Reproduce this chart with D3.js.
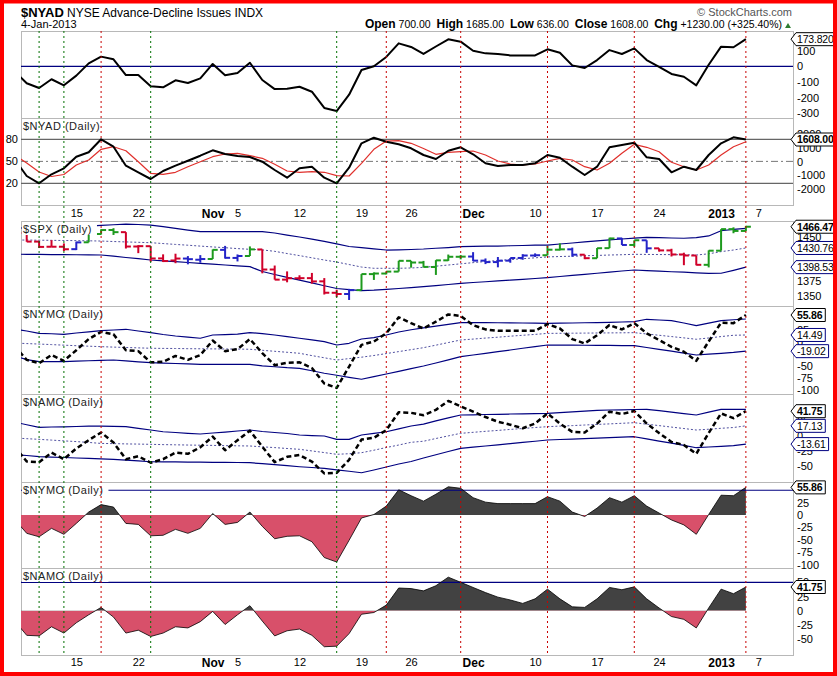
<!DOCTYPE html>
<html>
<head>
<meta charset="utf-8">
<script src="https://cdn.jsdelivr.net/npm/d3@7"></script>
<style>
  body { margin: 0; background: #fff; }
  svg text { font-family: "Liberation Sans", Arial, sans-serif; }
</style>
</head>
<body>
<svg id="chart" width="837" height="676"></svg>
<script>
// trading days shown (Oct 8 2012 .. Jan 4 2013)
let dates = ['2012-10-08','2012-10-09','2012-10-10','2012-10-11','2012-10-12','2012-10-15','2012-10-16','2012-10-17','2012-10-18','2012-10-19',
  '2012-10-22','2012-10-23','2012-10-24','2012-10-25','2012-10-26','2012-10-31','2012-11-01','2012-11-02','2012-11-05','2012-11-06',
  '2012-11-07','2012-11-08','2012-11-09','2012-11-12','2012-11-13','2012-11-14','2012-11-15','2012-11-16','2012-11-19','2012-11-20',
  '2012-11-21','2012-11-23','2012-11-26','2012-11-27','2012-11-28','2012-11-29','2012-11-30','2012-12-03','2012-12-04','2012-12-05',
  '2012-12-06','2012-12-07','2012-12-10','2012-12-11','2012-12-12','2012-12-13','2012-12-14','2012-12-17','2012-12-18','2012-12-19',
  '2012-12-20','2012-12-21','2012-12-24','2012-12-26','2012-12-27','2012-12-28','2012-12-31','2013-01-02','2013-01-03','2013-01-04'];

let xTickDates = ['2012-10-15','2012-10-22','2012-11-01','2012-11-05','2012-11-12','2012-11-19','2012-11-26','2012-12-03','2012-12-10','2012-12-17','2012-12-24','2013-01-02','2013-01-07'];
let xTickText = ['15','22','Nov','5','12','19','26','Dec','10','17','24','2013','7'];
let xTickBold = ['Nov','Dec','2013'];

let greenMarks = ['2012-10-10','2012-10-12','2012-10-23','2012-11-15'];
let redMarks = ['2012-10-17','2012-11-21','2012-11-30','2012-12-11','2012-12-20','2013-01-04'];

// top panel
let nyadOsc = [-30,-109,-139,-83,-122,-60,19,62,45,-56,-56,-128,-135,-90,-107,-77,15,-58,-43,23,
  -88,-146,-144,-131,-163,-267,-287,-182,-24,0,60,147,124,79,127,173,158,100,83,79,
  70,70,70,109,87,6,-11,40,104,79,115,40,-3,-49,-67,-122,10,126,122,173.82];

// $NYAD daily + its average
let nyadClose = [197,-1060,-1594,-936,-497,351,673,1623,1082,-307,-789,-1279,-694,-307,58,424,819,548,402,329,
  -15,-621,-1184,-497,-380,-1184,-1594,-453,1330,1740,1447,1257,965,475,183,789,1038,526,-132,-329,
  -256,-256,-132,475,278,-380,-987,-380,1038,1206,1374,307,183,-789,-380,-621,475,1330,1769,1608];
let nyadAvg = [475,-110,-768,-1096,-950,-256,110,892,1082,789,-15,-863,-936,-789,-380,-15,351,548,599,424,
  234,-205,-694,-789,-746,-789,-1038,-1060,-132,892,1499,1520,1330,950,526,673,716,768,475,37,
  -183,-256,-183,37,234,110,-380,-621,-132,599,1257,1038,716,-58,-380,-621,-256,475,1082,1447];
let nyadLevels = [80, 50, 20];

// $SPX
let spxOpen = [1460.93,1455.90,1441.48,1432.82,1432.84,1428.75,1440.31,1454.22,1460.94,1457.34,1433.21,1433.74,1413.20,1409.74,1412.97,1410.99,
  1412.20,1427.59,1414.02,1417.26,1428.27,1394.53,1377.55,1379.86,1380.03,1374.64,1355.41,1353.36,1359.88,1386.82,1387.79,1391.03,1409.15,1406.29,1398.77,1409.96,1415.95,
  1416.34,1409.46,1407.05,1409.43,1413.95,1418.07,1418.55,1427.84,1428.48,1419.45,1413.54,1430.47,1446.79,1435.81,1443.67,1430.15,1426.66,1419.83,1418.10,1402.43,
  1426.19,1462.42,1459.37];
let spxHigh = [1460.93,1455.90,1442.52,1443.90,1438.43,1441.31,1455.51,1462.20,1464.02,1457.34,1435.46,1433.74,1420.04,1421.12,1417.09,1418.76,
  1428.35,1434.27,1419.90,1433.38,1428.27,1401.23,1391.39,1384.87,1388.81,1380.13,1360.62,1362.03,1386.89,1389.77,1391.25,1409.16,1409.15,1409.01,1410.31,1419.70,1418.86,
  1423.73,1413.14,1415.56,1413.95,1420.34,1421.64,1434.27,1438.59,1431.36,1419.45,1430.67,1448.00,1447.75,1443.70,1443.67,1430.15,1429.42,1422.80,1418.10,1426.74,
  1462.43,1465.47,1467.94];
let spxLow = [1453.10,1441.18,1430.64,1432.82,1425.53,1427.24,1440.31,1453.35,1452.63,1429.85,1422.06,1407.56,1407.10,1405.14,1403.28,1405.95,
  1412.20,1412.91,1408.13,1417.26,1388.14,1377.51,1373.03,1377.19,1370.78,1352.50,1348.05,1343.35,1359.88,1377.04,1386.39,1391.03,1397.68,1398.03,1385.43,1409.04,1411.63,
  1408.46,1403.65,1398.23,1405.93,1410.90,1415.64,1418.55,1426.76,1416.00,1411.88,1413.54,1430.47,1435.80,1432.82,1422.58,1424.66,1416.43,1401.80,1401.58,1398.11,
  1426.19,1455.53,1458.99];
let spxClose = [1455.88,1441.48,1432.56,1432.84,1428.59,1440.13,1454.92,1460.91,1457.34,1433.19,1433.82,1413.11,1408.75,1412.97,1411.94,1412.16,
  1427.59,1414.20,1417.26,1428.39,1394.53,1377.51,1379.85,1380.03,1374.53,1355.49,1353.33,1359.88,1386.89,1387.81,1391.03,1409.15,1406.29,1398.94,1409.93,1415.95,1416.18,
  1409.46,1407.05,1409.28,1413.94,1418.07,1418.55,1427.84,1428.48,1419.45,1413.58,1430.36,1446.79,1435.81,1443.69,1430.15,1426.66,1419.83,1418.10,1402.43,1426.19,
  1462.42,1459.37,1466.47];
let spxImpulse = ['r','r','r','r','r','b','g','g','g','r','r','r','r','r','b','b','g','b','b','g',
  'r','r','r','r','r','r','r','b','g','g','g','g','g','g','g','g','g','b','b','b',
  'b','b','b','g','g','b','r','g','g','b','g','b','r','r','r','r','g','g','g','g'];
let spxUpper = [1464.3,1464.3,1465.1,1466.0,1466.0,1466.8,1467.6,1468.7,1469.8,1471.0,1470.2,1469.3,1466.5,1463.6,1460.9,1458.1,1458.1,1458.1,1458.1,1458.1,
  1458.1,1455.9,1452.5,1449.2,1445.5,1441.9,1437.7,1433.2,1431.3,1429.3,1427.3,1427.6,1428.2,1429.0,1430.3,1431.5,1432.9,1433.4,1433.7,1434.0,
  1434.5,1434.9,1435.4,1435.7,1437.4,1439.1,1440.9,1442.8,1444.5,1445.8,1447.3,1448.7,1448.2,1447.5,1447.1,1448.3,1451.0,1459.7,1462.1,1463.8];
let spxMid = [1444.1,1444.1,1443.8,1443.6,1443.3,1443.1,1442.8,1442.4,1441.6,1440.9,1440.3,1439.6,1438.2,1436.7,1435.4,1433.9,1432.5,1431.2,1429.7,1428.5,
  1427.5,1425.1,1421.4,1417.9,1414.2,1410.5,1407.1,1402.9,1398.7,1396.6,1396.6,1396.6,1397.1,1398.2,1400.1,1402.1,1404.1,1406.1,1408.0,1409.7,
  1411.2,1412.7,1414.2,1415.7,1416.4,1416.9,1417.6,1418.2,1418.9,1419.4,1420.1,1419.9,1419.7,1419.6,1419.2,1418.9,1420.9,1424.6,1427.3,1430.76];
let spxLower = [1420.3,1420.1,1419.9,1419.7,1419.6,1419.4,1419.2,1418.9,1416.9,1414.7,1412.7,1410.5,1409.2,1407.8,1406.3,1405.0,1403.6,1402.1,1400.8,1399.4,
  1391.2,1386.1,1381.4,1376.7,1372.0,1367.3,1362.6,1360.6,1359.1,1359.9,1361.3,1362.6,1364.1,1365.8,1367.5,1369.3,1371.3,1372.7,1374.0,1375.4,
  1376.7,1378.1,1379.4,1380.9,1382.8,1384.6,1386.5,1388.3,1390.2,1392.0,1393.7,1392.7,1391.8,1390.8,1390.0,1389.0,1388.2,1388.3,1393.2,1398.53];

// McClellan oscillators
let nymo = [-8,-37,-44,-27,-39,-17,6,21,16,-17,-19,-42,-41,-29,-37,-27,3,-19,-15,6,
  -23,-48,-43,-42,-54,-86,-95,-51,-6,1,18,51,39,28,42,57,54,35,26,23,
  23,23,23,37,28,6,-3,14,35,26,39,18,4,-10,-20,-39,1,40,39,55.86];
let nymoUpper = [26.9,22.8,18.0,17.0,15.9,18.6,21.1,23.6,24.8,26.3,22.8,19.3,15.5,12.4,10.1,7.7,14.5,15.3,16.1,19.3,
  17.4,14.5,11.2,7.7,4.3,0.8,-6.2,-2.7,6.2,9.1,14.5,20.7,25.3,29.4,32.9,36.4,40.0,40.0,40.0,39.8,
  39.5,39.3,38.9,38.7,39.1,39.3,39.8,40.0,40.6,41.4,42.2,47.0,45.5,44.3,39.3,33.7,38.9,44.1,46.0,47.6];
let nymoMid = [-2.1,-3.3,-4.3,-5.4,-6.6,-7.7,-8.7,-9.7,-10.6,-11.4,-12.2,-13.0,-13.3,-13.5,-13.9,-14.1,-14.3,-14.5,-14.7,-15.1,
  -17.2,-19.3,-21.3,-23.4,-28.2,-32.7,-37.3,-34.4,-31.5,-28.0,-24.0,-19.9,-15.9,-11.8,-6.6,-1.2,4.1,6.0,8.1,9.9,
  12.0,13.9,15.7,17.8,18.0,18.2,18.4,18.6,18.8,19.0,19.3,16.6,13.9,11.2,8.5,5.6,8.3,11.2,13.9,14.49];
let nymoLower = [-29.0,-36.6,-40.8,-40.8,-40.8,-39.8,-38.9,-38.1,-37.3,-39.3,-41.0,-42.9,-43.7,-44.5,-45.3,-46.2,-46.2,-46.2,-46.2,-46.2,
  -49.3,-51.3,-53.2,-54.5,-59.6,-64.8,-68.9,-73.1,-77.2,-71.6,-66.3,-60.7,-55.1,-49.7,-43.5,-37.1,-30.4,-26.9,-23.4,-19.9,
  -16.6,-13.0,-9.5,-6.2,-6.4,-6.6,-6.8,-7.0,-7.2,-7.5,-7.7,-11.4,-15.3,-19.0,-23.0,-26.9,-25.3,-23.6,-21.7,-19.02];

let namo = [-17,-43,-44,-28,-39,-21,-7,6,-11,-39,-34,-45,-39,-28,-30,-19,-1,-24,-7,9,
  -18,-44,-35,-32,-43,-63,-62,-40,-6,-3,10,40,39,35,44,59,50,41,32,24,
  19,13,21,38,21,7,6,21,41,37,42,21,5,-10,-15,-30,5,38,30,41.75];
let namoUpper = [23.6,18.9,14.6,15.2,15.5,16.0,16.5,16.8,16.2,15.7,13.0,10.1,7.2,5.9,4.5,3.4,5.1,6.7,8.4,10.1,
  7.6,5.9,4.2,1.7,0.8,0,-5.6,-5.6,1.7,4.5,7.2,12.0,16.8,20.0,25.4,30.5,35.4,35.7,36.2,36.5,
  37.0,37.4,37.7,38.2,39.4,40.6,41.8,43.1,43.8,44.1,44.6,44.9,42.6,40.2,37.7,35.4,40.2,44.9,44.9,44.9];
let namoMid = [-3.2,-4.5,-5.6,-6.9,-8.2,-9.4,-10.8,-12.5,-12.8,-13.3,-13.6,-14.0,-14.5,-14.8,-15.2,-15.5,-15.8,-16.2,-16.5,-16.8,
  -18.2,-19.5,-21.0,-22.4,-25.1,-27.9,-30.8,-29.8,-28.1,-23.9,-19.4,-15.2,-10.6,-8.8,-4.2,0.2,4.5,6.2,7.9,9.4,
  11.1,12.6,14.3,15.7,16.7,17.5,18.5,19.5,20.4,21.4,22.4,19.9,17.5,15.0,12.6,10.1,11.4,13.0,14.3,17.13];
let namoLower = [-31.1,-32.8,-34.8,-35.5,-36.2,-37.0,-37.7,-38.4,-39.2,-40.6,-41.9,-43.3,-43.4,-43.6,-43.8,-44.1,-44.3,-44.4,-44.6,-44.9,
  -46.6,-48.3,-50.0,-51.7,-53.0,-54.4,-56.9,-59.3,-61.8,-57.2,-52.2,-47.1,-42.9,-37.0,-31.5,-26.1,-20.7,-18.7,-16.8,-14.8,
  -12.8,-10.8,-8.8,-6.7,-5.9,-5.1,-4.4,-3.5,-2.7,-2.0,-1.2,-4.9,-8.6,-12.1,-15.8,-19.7,-18.5,-17.3,-16.3,-13.61];

let svg = d3.select('#chart');
let left = 21, right = 793;
let navy = '#000080';
let impulseColor = {r: '#d0002a', g: '#1e9a1e', b: '#2424c8'};

function idx(d) {
  let i = dates.indexOf(d);
  return i < 0 ? dates.length : i;
}

let x = d3.scaleLinear().domain([0.54, 62.8]).range([left, right]);

let panels = [
  {name: 'top', top: 31, bottom: 118, label: null},
  {name: 'nyad', top: 118, bottom: 205, label: '$NYAD (Daily)'},
  {name: 'spx', top: 221, bottom: 306, label: '$SPX (Daily)'},
  {name: 'nymo', top: 306, bottom: 394, label: '$NYMO (Daily)'},
  {name: 'namo', top: 394, bottom: 482, label: '$NAMO (Daily)'},
  {name: 'nymoH', top: 482, bottom: 568, label: '$NYMO (Daily)'},
  {name: 'namoH', top: 568, bottom: 655, label: '$NAMO (Daily)'}
];

let yTop = d3.scaleLinear().domain([-331.4, 226.3]).range([118, 31]);
let yNyad = d3.scaleLinear().domain([-3180, 3180]).range([205, 118]);
let yNyadL = d3.scaleLinear().domain([-9.5, 109.2]).range([205, 118]);
let ySpx = d3.scaleLinear().domain([1333.2, 1476.1]).range([306, 221]);
let yNymo = d3.scaleLinear().domain([-107.7, 74.5]).range([394, 306]);
let yNamo = d3.scaleLinear().domain([-77.4, 70.7]).range([482, 394]);
let yNymoH = d3.scaleLinear().domain([-107.1, 66.7]).range([568, 482]);
let yNamoH = d3.scaleLinear().domain([-77.5, 75.1]).range([655, 568]);

let defs = svg.append('defs');
panels.forEach(p => {
  defs.append('clipPath').attr('id', 'clip-' + p.name)
    .append('rect').attr('x', left).attr('y', p.top).attr('width', right - left).attr('height', p.bottom - p.top);
  svg.append('rect').attr('x', left + 0.5).attr('y', p.top + 0.5)
    .attr('width', right - left).attr('height', p.bottom - p.top)
    .attr('fill', '#fff').attr('stroke', '#b8b8b8');
});

function layer(name) {
  return svg.append('g').attr('clip-path', 'url(#clip-' + name + ')');
}

function drawLine(g, yS, vals, color, width, dash) {
  let line = d3.line().x((d, i) => x(i)).y(d => yS(d));
  g.append('path').datum(vals).attr('d', line)
    .attr('fill', 'none').attr('stroke', color).attr('stroke-width', width)
    .attr('stroke-dasharray', dash || null).attr('stroke-linejoin', 'round');
}

function hLine(g, yS, v, color, width, dash) {
  g.append('line').attr('x1', left).attr('x2', right)
    .attr('y1', yS(v)).attr('y2', yS(v))
    .attr('stroke', color).attr('stroke-width', width).attr('stroke-dasharray', dash || null);
}

// panel 1
let g1 = layer('top');
hLine(g1, yTop, 0, navy, 1.3);
drawLine(g1, yTop, nyadOsc, '#000', 2);

// panel 2
let g2 = layer('nyad');
hLine(g2, yNyadL, nyadLevels[0], '#666', 1.2);
hLine(g2, yNyadL, nyadLevels[1], '#777', 1, '7,3,2,3');
hLine(g2, yNyadL, nyadLevels[2], '#666', 1.2);
drawLine(g2, yNyad, nyadAvg, '#e0302c', 1.2);
drawLine(g2, yNyad, nyadClose, '#000', 2);

// panel 3: SPX bars with bands
let g3 = layer('spx');
drawLine(g3, ySpx, spxUpper, navy, 1.2);
drawLine(g3, ySpx, spxMid, '#5050a0', 1, '2,2');
drawLine(g3, ySpx, spxLower, navy, 1.2);
let bars = g3.selectAll('g.bar').data(spxClose).enter().append('g')
  .attr('stroke', (d, i) => impulseColor[spxImpulse[i]]).attr('stroke-width', 2);
bars.append('line').attr('x1', (d, i) => x(i)).attr('x2', (d, i) => x(i))
  .attr('y1', (d, i) => ySpx(spxHigh[i])).attr('y2', (d, i) => ySpx(spxLow[i]));
bars.append('line').attr('x1', (d, i) => x(i) - 5).attr('x2', (d, i) => x(i))
  .attr('y1', (d, i) => ySpx(spxOpen[i])).attr('y2', (d, i) => ySpx(spxOpen[i]));
bars.append('line').attr('x1', (d, i) => x(i)).attr('x2', (d, i) => x(i) + 5)
  .attr('y1', d => ySpx(d)).attr('y2', d => ySpx(d));

// panels 4 and 5: oscillators with bands
function bandPanel(name, yS, vals, up, mid, low) {
  let g = layer(name);
  drawLine(g, yS, up, navy, 1.2);
  drawLine(g, yS, mid, '#5050a0', 1, '2,2');
  drawLine(g, yS, low, navy, 1.2);
  drawLine(g, yS, vals, '#000', 2.5, '5,3');
}
bandPanel('nymo', yNymo, nymo, nymoUpper, nymoMid, nymoLower);
bandPanel('namo', yNamo, namo, namoUpper, namoMid, namoLower);

// panels 6 and 7: histograms
function histPanel(p, yS, vals) {
  let zero = yS(0);
  defs.append('clipPath').attr('id', 'pos-' + p.name).append('rect')
    .attr('x', left).attr('y', p.top).attr('width', right - left).attr('height', zero - p.top);
  defs.append('clipPath').attr('id', 'neg-' + p.name).append('rect')
    .attr('x', left).attr('y', zero).attr('width', right - left).attr('height', p.bottom - zero);
  let area = d3.area().x((d, i) => x(i)).y0(zero).y1(d => yS(d));
  svg.append('path').datum(vals).attr('d', area).attr('fill', '#424242').attr('clip-path', 'url(#pos-' + p.name + ')');
  svg.append('path').datum(vals).attr('d', area).attr('fill', '#d8506a').attr('clip-path', 'url(#neg-' + p.name + ')');
  let g = layer(p.name);
  hLine(g, yS, 50, navy, 1.2);
  drawLine(g, yS, vals, '#000', 0.8);
}
histPanel(panels[5], yNymoH, nymo);
histPanel(panels[6], yNamoH, namo);

// panel labels
panels.forEach(p => {
  if (!p.label) return;
  let g = svg.append('g');
  let t = g.append('text').attr('x', left + 2).attr('y', p.top + 12)
    .attr('font-size', 11).attr('letter-spacing', 0.5).attr('fill', '#222').text(p.label);
  let w = t.node().getComputedTextLength();
  g.insert('rect', 'text').attr('x', left + 1).attr('y', p.top + 1)
    .attr('width', w + 6).attr('height', 13).attr('fill', '#fff');
});

// dotted marker lines
greenMarks.forEach(d => {
  svg.append('line').attr('x1', x(idx(d))).attr('x2', x(idx(d))).attr('y1', 31).attr('y2', 655)
    .attr('stroke', '#007000').attr('stroke-width', 1).attr('stroke-dasharray', '2,3');
});
redMarks.forEach(d => {
  svg.append('line').attr('x1', x(idx(d))).attr('x2', x(idx(d))).attr('y1', 31).attr('y2', 655)
    .attr('stroke', '#c80000').attr('stroke-width', 1).attr('stroke-dasharray', '2,3');
});

// x axes
let tickIdx = xTickDates.map(idx);
function xAxis(yPos, pad) {
  let g = svg.append('g').attr('transform', 'translate(0,' + yPos + ')')
    .call(d3.axisBottom(x).tickValues(tickIdx).tickSize(0).tickPadding(pad)
      .tickFormat((d, i) => xTickText[i]));
  g.select('.domain').remove();
  g.selectAll('text').attr('fill', '#000')
    .attr('font-weight', t => xTickBold.includes(xTickText[tickIdx.indexOf(t)]) ? 'bold' : 'normal')
    .attr('font-size', t => xTickBold.includes(xTickText[tickIdx.indexOf(t)]) ? 12 : 11);
}
xAxis(205, 4);
xAxis(655, 3);

// y axes
function rightAxis(yS, ticks) {
  let g = svg.append('g').attr('transform', 'translate(' + right + ',0)')
    .call(d3.axisRight(yS).tickValues(ticks).tickSize(0).tickPadding(4).tickFormat(d => String(d)));
  g.select('.domain').remove();
  g.selectAll('text').attr('font-size', 11).attr('fill', '#000');
}
rightAxis(yTop, [100, 0, -100, -200, -300]);
rightAxis(yNyad, [2000, 1000, 0, -1000, -2000]);
rightAxis(ySpx, [1450, 1425, 1400, 1375, 1350]);
rightAxis(yNymo, [50, 25, 0, -25, -50, -75, -100]);
rightAxis(yNamo, [25, 0, -25, -50]);
rightAxis(yNymoH, [50, 25, 0, -25, -50, -75, -100]);
rightAxis(yNamoH, [50, 25, 0, -25, -50]);

let gl = svg.append('g').attr('transform', 'translate(' + left + ',0)')
  .call(d3.axisLeft(yNyadL).tickValues(nyadLevels).tickSize(0).tickPadding(3).tickFormat(d => String(d)));
gl.select('.domain').remove();
gl.selectAll('text').attr('font-size', 11).attr('fill', '#000');

// value tags
function tag(yS, v, label, bold, color) {
  let yy = yS(v);
  let g = svg.append('g');
  let t = g.append('text').attr('x', right + 4).attr('y', yy).attr('dy', '0.36em')
    .attr('font-size', 10.5).attr('letter-spacing', -0.2)
    .attr('font-weight', bold ? 'bold' : 'normal').text(label);
  let w = t.node().getComputedTextLength();
  g.insert('path', 'text')
    .attr('d', 'M' + (right - 2) + ',' + yy + 'L' + (right + 3) + ',' + (yy - 6.5) + 'H' + (right + w + 7) +
      'V' + (yy + 6.5) + 'H' + (right + 3) + 'Z')
    .attr('fill', '#fff').attr('stroke', color).attr('stroke-width', 1);
}
let last = dates.length - 1;
tag(yTop, nyadOsc[last], '173.820', false, '#000');
tag(yNyad, nyadClose[last], '1608.00', true, '#000');
tag(ySpx, spxMid[last], '1430.76', false, navy);
tag(ySpx, spxLower[last], '1398.53', false, navy);
tag(ySpx, spxClose[last], '1466.47', true, '#000');
tag(yNymo, nymoMid[last], '14.49', false, navy);
tag(yNymo, nymoLower[last], '-19.02', false, navy);
tag(yNymo, nymo[last], '55.86', true, '#000');
tag(yNamo, namoMid[last], '17.13', false, navy);
tag(yNamo, namoLower[last], '-13.61', false, navy);
tag(yNamo, namo[last], '41.75', true, '#000');
tag(yNymoH, nymo[last], '55.86', true, '#000');
tag(yNamoH, namo[last], '41.75', true, '#000');

// header
svg.append('text').attr('x', 21).attr('y', 17).attr('font-size', 13).attr('font-weight', 'bold').text('$NYAD');
svg.append('text').attr('x', 67).attr('y', 17).attr('font-size', 12).text('NYSE Advance-Decline Issues INDX');
svg.append('text').attr('x', 21).attr('y', 28).attr('font-size', 11).text('4-Jan-2013');
svg.append('text').attr('x', 792).attr('y', 16).attr('font-size', 11).attr('fill', '#555')
  .attr('text-anchor', 'end').text('\u00a9 StockCharts.com');
let hdr = svg.append('text').attr('x', 782).attr('y', 28).attr('text-anchor', 'end').attr('font-size', 10.5)
  .style('white-space', 'pre');
[['Open', ' 700.00  '], ['High', ' 1685.00  '], ['Low', ' 636.00  '], ['Close', ' 1608.00  '], ['Chg', ' +1230.00 (+325.40%)']]
  .forEach(p => {
    hdr.append('tspan').attr('font-weight', 'bold').attr('font-size', 12).text(p[0]);
    hdr.append('tspan').text(p[1]);
  });
svg.append('path').attr('d', 'M785,28 L791,28 L788,23 Z').attr('fill', '#2e7d32');

// red frame
svg.append('rect').attr('x', 2).attr('y', 1.5).attr('width', 833).attr('height', 672.5)
  .attr('fill', 'none').attr('stroke', '#f00').attr('stroke-width', 4);
</script>
</body>
</html>
